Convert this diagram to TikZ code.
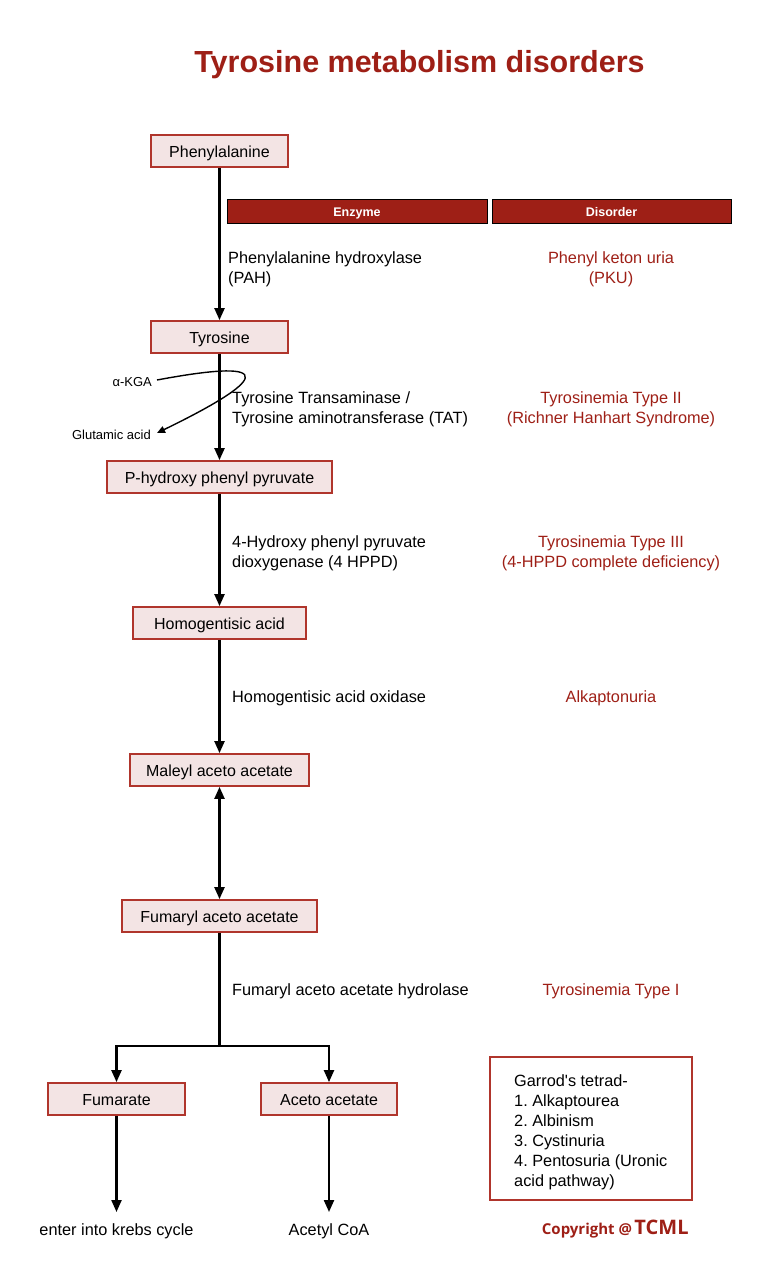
\documentclass[tikz,border=0pt]{standalone}
\usepackage{fontspec}
\setmainfont{Liberation Sans}
\newfontfamily\copyfont{Open Sans}
\usetikzlibrary{arrows.meta,positioning}
\definecolor{darkred}{HTML}{9E1F16}
\definecolor{boxred}{HTML}{B0352C}
\definecolor{boxfill}{HTML}{F3E4E4}
\frenchspacing
\tikzset{
  compound/.style={draw=boxred, line width=1.8pt, fill=boxfill, minimum height=32pt, text height=15pt, text depth=3pt, font=\fontsize{16}{19}\selectfont},
  header/.style={draw=black, line width=0.6pt, fill=darkred, text=white, minimum width=260pt, minimum height=24pt, text height=11pt, text depth=1pt, font=\fontsize{12.5}{14}\selectfont\bfseries},
  enzyme/.style={anchor=west, inner sep=0pt, align=left, font=\fontsize{16.3}{20}\selectfont},
  disorder/.style={inner sep=0pt, align=center, text=darkred, font=\fontsize{16.3}{20}\selectfont},
  small/.style={inner sep=0pt, font=\fontsize{13}{15}\selectfont},
  flow/.style={line width=2.2pt, -{Triangle[length=12pt,width=10pt]}},
}
\begin{document}
\begin{tikzpicture}[x=1pt, y=-1pt]
\useasboundingbox (0,0) rectangle (766,1280);
%title
\node[text=darkred, font=\fontsize{30.5}{34}\selectfont\bfseries] (title) at (419.5,65) {Tyrosine metabolism disorders};
%pathway
\node[compound, minimum width=137pt] (phe) at (219.5,151) {Phenylalanine};
\node[compound, minimum width=137pt] (tyr) at (219.5,337) {Tyrosine};
\node[compound, minimum width=225pt] (hpp) at (219.5,477) {P-hydroxy phenyl pyruvate};
\node[compound, minimum width=173pt] (hga) at (219.5,623) {Homogentisic acid};
\node[compound, minimum width=179pt] (maa) at (219.5,770) {Maleyl aceto acetate};
\node[compound, minimum width=195pt] (faa) at (219.5,916) {Fumaryl aceto acetate};
\node[compound, minimum width=137pt] (fum) at (116.5,1099) {Fumarate};
\node[compound, minimum width=136pt] (aca) at (329,1099) {Aceto acetate};
\node[inner sep=0pt, font=\fontsize{16.3}{19}\selectfont] (krebs) at (116.5,1231) {enter into krebs cycle};
\node[inner sep=0pt, font=\fontsize{16.3}{19}\selectfont] (coa) at (329,1231) {Acetyl CoA};
\coordinate (krebsend) at (116.5,1212);
\coordinate (coaend) at (329,1212);
\coordinate (split) at (219.5,1046);
%headers
\node[header] (enzhead) at (357,211) {Enzyme};
\node[header, minimum width=239pt] (dishead) at (611.5,211) {Disorder};
%enzymes
\node[enzyme] (pah) at (228,269) {Phenylalanine hydroxylase\\(PAH)};
\node[enzyme] (tat) at (232,409) {Tyrosine Transaminase /\\Tyrosine aminotransferase (TAT)};
\node[enzyme] (hppd) at (232,553) {4-Hydroxy phenyl pyruvate\\dioxygenase (4 HPPD)};
\node[enzyme] (hgo) at (232,698) {Homogentisic acid oxidase};
\node[enzyme] (fah) at (232,991) {Fumaryl aceto acetate hydrolase};
%disorders
\node[disorder] (pku) at (611,269) {Phenyl keton uria\\(PKU)};
\node[disorder] (tyr2) at (611,409) {Tyrosinemia Type II\\(Richner Hanhart Syndrome)};
\node[disorder] (tyr3) at (611,553) {Tyrosinemia Type III\\(4-HPPD complete deficiency)};
\node[disorder] (alk) at (611,698) {Alkaptonuria};
\node[disorder] (tyr1) at (611,991) {Tyrosinemia Type I};
%side reaction
\node[small, anchor=east] (kga) at (152,382) {α-KGA};
\node[small, anchor=east] (glu) at (151,435) {Glutamic acid};
\coordinate (kgastart) at (157,380);
\coordinate (gluend) at (157,433);
\draw[line width=1.4pt, -{Triangle[length=8pt,width=7pt]}] (kgastart) .. controls (285,356) and (262,382) .. (gluend);
%arrows
\draw[flow] (phe) -- (tyr);
\draw[flow] (tyr) -- (hpp);
\draw[flow] (hpp) -- (hga);
\draw[flow] (hga) -- (maa);
\draw[flow, {Triangle[length=12pt,width=10pt]}-{Triangle[length=12pt,width=10pt]}] (maa) -- (faa);
\draw[line width=2.2pt] (faa) -- (split);
\draw[flow] (split) -| (fum);
\draw[flow] (split) -| (aca);
\draw[flow] (fum) -- (krebsend);
\draw[flow] (aca) -- (coaend);
%tetrad
\node[draw=boxred, line width=1.8pt, minimum width=202pt, minimum height=143pt] (garrod) at (591,1128.5) {};
\node[anchor=north west, inner sep=0pt, align=left, font=\fontsize{16.3}{20}\selectfont] (tetrad) at (514,1074) {Garrod\textquotesingle s tetrad-\\1. Alkaptourea\\2. Albinism\\3. Cystinuria\\4. Pentosuria (Uronic\\acid pathway)};
%copyright
\node[text=darkred, inner sep=0pt, font=\copyfont\bfseries\fontsize{15}{17}\selectfont] (copy) at (587,1231) {Copyright @};
\node[text=darkred, anchor=base west, inner sep=0pt, font=\copyfont\bfseries\fontsize{20}{22}\selectfont] (tcml) at ([xshift=2pt]copy.base east) {TCML};
\end{tikzpicture}
\end{document}
